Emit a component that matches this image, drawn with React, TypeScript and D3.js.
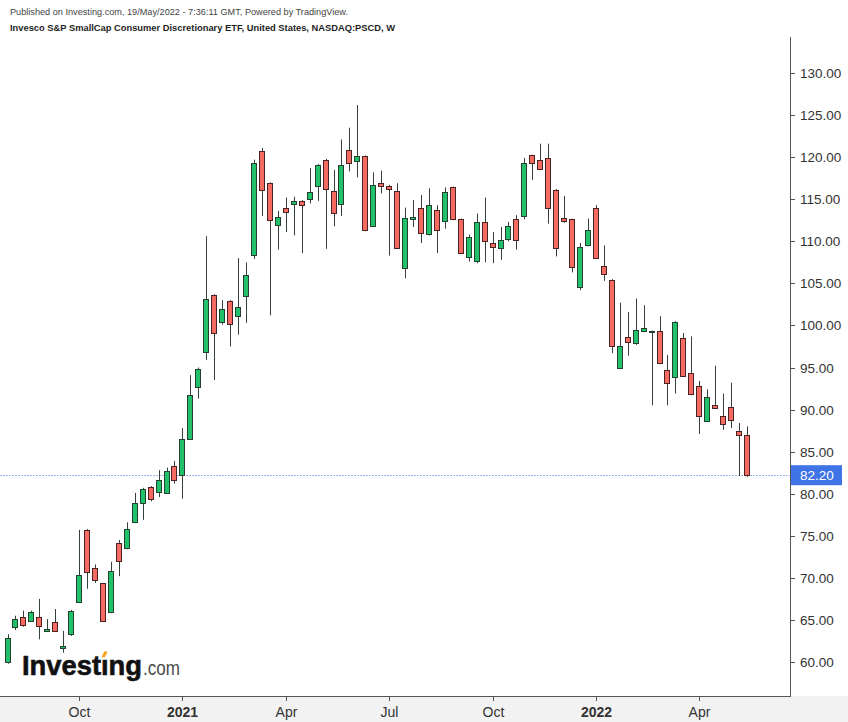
import { useEffect } from "react";
import * as d3 from "d3";

// Weekly OHLC, PSCD, first bar week of 3 Aug 2020, last bar week of 16 May 2022
const FIRST_WEEK = new Date(2020, 7, 3);
const LAST_WEEK = new Date(2022, 4, 16);

const opens = [
  60.0, 64.2, 65.4, 64.9, 65.4, 63.7, 64.8, 61.7, 63.4, 67.1, 75.7, 71.2, 69.4, 65.9, 74.1, 73.6,
  76.6, 78.9, 80.8, 80.2, 80.1, 83.3, 82.2, 86.5, 92.7, 96.9, 103.6, 100.4, 102.9, 101.1, 103.5, 108.4,
  120.7, 116.9, 112.0, 113.9, 114.4, 114.8, 115.0, 116.6, 119.7, 116.0, 114.5, 120.9, 119.5, 120.1, 111.8, 116.9,
  116.6, 116.0, 106.9, 112.7, 114.0, 110.8, 113.7, 112.3, 116.4, 112.6, 108.1, 107.7, 112.3, 109.8, 109.2, 110.2,
  112.6, 113.0, 120.2, 119.7, 119.9, 116.1, 112.8, 112.6, 104.6, 109.5, 114.0, 107.1, 105.4, 95.0, 98.6, 97.8,
  99.3, 99.2, 99.3, 94.7, 93.9, 98.5, 94.4, 92.8, 88.7, 90.6, 89.2, 90.3, 87.5, 87.0,
];
const highs = [
  63.3, 65.5, 66.1, 66.1, 67.5, 65.1, 66.3, 63.7, 66.2, 75.7, 75.8, 71.6, 69.4, 71.9, 74.5, 76.6,
  80.1, 80.7, 80.9, 82.8, 83.1, 83.9, 87.8, 94.1, 95.0, 110.6, 103.7, 103.0, 103.0, 108.0, 107.5, 119.7,
  121.1, 117.0, 113.6, 115.2, 115.3, 114.9, 118.7, 119.2, 119.8, 118.5, 122.1, 123.5, 126.2, 120.2, 118.2, 118.4,
  116.7, 116.9, 114.0, 114.9, 115.5, 116.3, 114.3, 116.4, 116.5, 112.7, 110.8, 113.3, 115.2, 111.1, 111.7, 112.3,
  113.1, 119.9, 120.3, 121.6, 121.6, 116.2, 115.4, 112.7, 109.8, 112.7, 114.3, 109.5, 105.5, 102.7, 101.6, 103.2,
  102.4, 99.4, 101.1, 96.5, 100.5, 99.1, 98.7, 93.4, 92.4, 95.2, 91.9, 93.2, 88.4, 88.0,
];
const lows = [
  59.8, 63.8, 64.2, 64.8, 62.7, 63.6, 63.6, 61.1, 63.1, 67.0, 68.7, 69.4, 64.8, 65.8, 70.2, 73.4,
  76.5, 76.9, 79.1, 79.6, 80.0, 81.2, 79.4, 86.4, 91.3, 95.9, 93.5, 100.1, 97.5, 98.9, 100.3, 107.9,
  113.0, 101.2, 109.0, 111.1, 110.7, 108.6, 114.5, 114.8, 109.1, 111.8, 113.0, 118.3, 117.6, 111.2, 111.7, 115.7,
  108.3, 109.1, 105.6, 111.7, 109.8, 110.7, 108.6, 111.5, 112.5, 108.5, 107.6, 107.4, 107.5, 107.4, 107.8, 110.0,
  109.0, 112.6, 117.3, 118.5, 112.1, 108.2, 112.2, 106.3, 104.2, 109.4, 108.0, 105.3, 96.7, 94.9, 96.4, 97.7,
  99.2, 90.5, 95.4, 90.5, 91.9, 93.9, 91.7, 87.1, 88.6, 90.2, 87.6, 87.8, 82.1, 82.0,
];
const closes = [
  62.8, 65.1, 64.5, 66.0, 64.3, 63.9, 63.7, 61.9, 66.1, 70.3, 70.7, 69.8, 64.9, 70.8, 72.0, 75.8,
  78.9, 80.6, 79.4, 81.6, 82.7, 81.6, 86.5, 91.7, 94.8, 103.2, 99.1, 101.9, 100.2, 102.2, 106.0, 119.3,
  116.1, 112.5, 112.9, 113.4, 114.8, 114.3, 115.8, 119.1, 116.2, 113.4, 119.1, 119.3, 120.1, 111.3, 116.7, 116.5,
  116.2, 109.2, 112.8, 112.9, 111.0, 114.3, 111.3, 115.8, 112.6, 108.6, 110.5, 112.3, 110.1, 109.3, 110.2, 111.8,
  110.1, 119.3, 119.3, 118.6, 114.0, 109.2, 112.5, 106.9, 109.3, 111.3, 108.1, 106.2, 97.6, 97.6, 98.0, 99.4,
  99.7, 99.3, 95.5, 93.2, 100.4, 94.0, 91.9, 89.2, 91.5, 90.3, 88.3, 88.7, 87.0, 82.2,
];

const LAST_PRICE = 82.2;

const yTicks = [60, 65, 70, 75, 80, 85, 90, 95, 100, 105, 110, 115, 120, 125, 130];

const xTickDates = [
  new Date(2020, 9, 5),
  new Date(2021, 0, 4),
  new Date(2021, 3, 5),
  new Date(2021, 6, 5),
  new Date(2021, 9, 4),
  new Date(2022, 0, 3),
  new Date(2022, 3, 4),
];
const xTickLabels = ["Oct", "2021", "Apr", "Jul", "Oct", "2022", "Apr"];

const TITLE_1 = "Published on Investing.com, 19/May/2022 - 7:36:11 GMT, Powered by TradingView.";
const TITLE_2 = "Invesco S&P SmallCap Consumer Discretionary ETF, United States, NASDAQ:PSCD, W";

const WIDTH = 848;
const HEIGHT = 722;
const AXIS_X = 790;
const AXIS_Y = 696;
const PLOT_TOP = 37;

const UP = "#21c16b";
const UP_EDGE = "#24402f";
const DOWN = "#f66b61";
const DOWN_EDGE = "#4a2222";
const WICK = "#34413a";
const FONT = "'Liberation Sans', Arial, sans-serif";

export default function App() {
  useEffect(() => {
    document.body.style.margin = "0";
  }, []);

  const dates = d3.timeMonday.range(FIRST_WEEK, d3.timeDay.offset(LAST_WEEK, 1));
  const x = d3.scaleTime().domain([FIRST_WEEK, LAST_WEEK]).range([7.5, 747]);
  const y = d3.scaleLinear().domain([60, 130]).range([662, 73]);

  const bars = opens.map((o, i) => ({
    date: dates[i],
    open: o,
    high: highs[i],
    low: lows[i],
    close: closes[i],
  }));

  const lastY = y(LAST_PRICE);

  return (
    <svg
      width={WIDTH}
      height={HEIGHT}
      style={{ position: "absolute", left: 0, top: 0, display: "block" }}
      fontFamily={FONT}
    >
      <rect x={0} y={0} width={WIDTH} height={HEIGHT} fill="#ffffff" />
      <rect x={0} y={AXIS_Y} width={WIDTH} height={HEIGHT - AXIS_Y} fill="#f2f2f2" />

      {/* header */}
      <text x={10} y={15} fontSize={9} fill="#444" textLength={338} lengthAdjust="spacingAndGlyphs">
        {TITLE_1}
      </text>
      <text x={10} y={31} fontSize={9} fontWeight="bold" fill="#1e1e1e" textLength={385} lengthAdjust="spacingAndGlyphs">
        {TITLE_2}
      </text>

      {/* last price line */}
      <line
        x1={0}
        x2={AXIS_X}
        y1={Math.round(lastY) + 0.5}
        y2={Math.round(lastY) + 0.5}
        stroke="#9fb2f4"
        strokeWidth={1}
        strokeDasharray="2,1"
      />

      {/* candles */}
      {bars.map((b, i) => {
        const cx = x(b.date);
        const left = Math.round(cx - 3);
        const up = b.close >= b.open;
        const top = y(Math.max(b.open, b.close));
        const bottom = y(Math.min(b.open, b.close));
        const h = Math.max(1, bottom - top);
        return (
          <g key={i}>
            <rect
              x={left + 3}
              y={y(b.high)}
              width={1}
              height={Math.max(1, y(b.low) - y(b.high))}
              fill={WICK}
            />
            <rect
              x={left + 0.5}
              y={Math.round(top) + 0.5}
              width={5}
              height={Math.max(0.5, Math.round(h))}
              fill={up ? UP : DOWN}
              stroke={up ? UP_EDGE : DOWN_EDGE}
              strokeWidth={1}
            />
          </g>
        );
      })}

      {/* x axis */}
      <line x1={0} x2={AXIS_X + 0.5} y1={AXIS_Y + 0.5} y2={AXIS_Y + 0.5} stroke="#555" />
      {xTickDates.map((d, i) => {
        const tx = Math.round(x(d)) + 0.5;
        const isYear = /^\d{4}$/.test(xTickLabels[i]);
        return (
          <g key={i}>
            <line x1={tx} x2={tx} y1={AXIS_Y + 1} y2={AXIS_Y + 5} stroke="#555" />
            <text
              x={tx}
              y={717}
              fontSize={14}
              textAnchor="middle"
              fill="#333"
              fontWeight={isYear ? "bold" : "normal"}
            >
              {xTickLabels[i]}
            </text>
          </g>
        );
      })}

      {/* y axis */}
      <line x1={AXIS_X + 0.5} x2={AXIS_X + 0.5} y1={PLOT_TOP} y2={AXIS_Y + 1} stroke="#555" />
      {yTicks.map((t) => {
        const ty = Math.round(y(t)) + 0.5;
        return (
          <g key={t}>
            <line x1={AXIS_X + 1} x2={AXIS_X + 5} y1={ty} y2={ty} stroke="#555" />
            <text x={800} y={ty} dy="0.35em" fontSize={13.5} fill="#333">
              {d3.format(".2f")(t)}
            </text>
          </g>
        );
      })}

      {/* last price tag */}
      <rect x={AXIS_X + 1} y={lastY - 10} width={51} height={20} fill="#3f74e6" />
      <text x={800} y={lastY} dy="0.36em" fontSize={13.5} fill="#ffffff">
        {d3.format(".2f")(LAST_PRICE)}
      </text>

      {/* watermark */}
      <text
        x={22}
        y={675}
        fontSize={28}
        fontWeight="bold"
        fill="#111"
        stroke="#111"
        strokeWidth={0.6}
        textLength={120}
        lengthAdjust="spacingAndGlyphs"
      >
        Investıng
      </text>
      <polygon points="101.5,657.3 104.2,651.6 107.6,651.6 104.9,657.3" fill="#f7a21b" />
      <text x={143} y={675} fontSize={20} fill="#4a4a4a" textLength={37} lengthAdjust="spacingAndGlyphs">
        .com
      </text>
    </svg>
  );
}
